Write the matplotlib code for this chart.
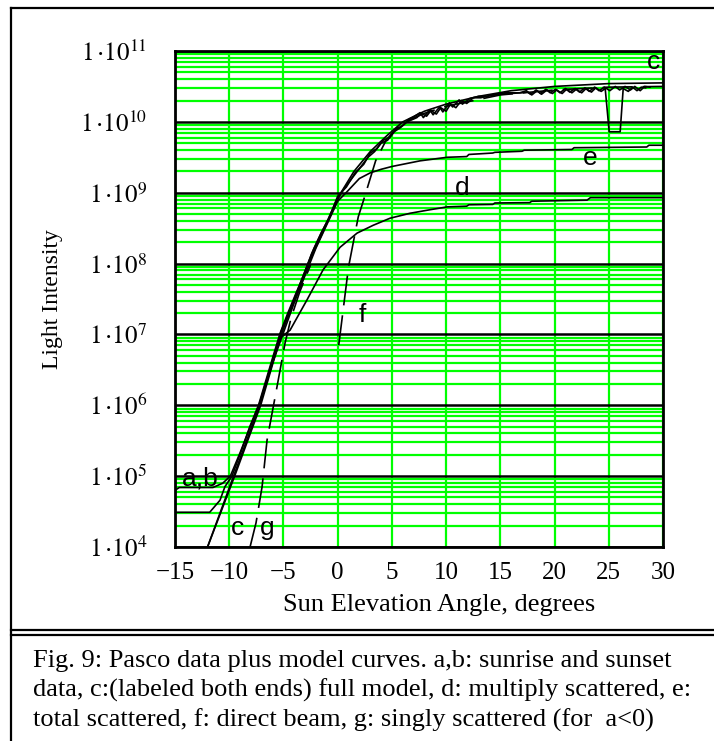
import numpy as np
import matplotlib
matplotlib.use("Agg")
import matplotlib.pyplot as plt
from matplotlib.lines import Line2D
from matplotlib.ticker import LogLocator, FixedLocator, FuncFormatter, NullFormatter

plt.rcParams['font.family'] = ['Liberation Serif', 'DejaVu Serif']
plt.rcParams['mathtext.fontset'] = 'stix'

# sunrise data (a): angle in degrees, log10 of intensity
a_angle = [-15.0, -14.6, -11.5, -10.6, -9.9, -9.0, -8.0, -7.2, -6.5, -5.8, -5.2, -4.5, -3.8, -3.0,
           -2.2, -1.5, -0.8, 0.0, 0.8, 1.6, 2.4, 3.0, 3.6, 4.2, 4.8, 5.4, 6.0, 6.6,
           7.0, 7.6, 7.9, 8.5, 8.8, 9.4, 9.7, 10.3, 10.6, 11.2, 11.5, 12.2, 13.0, 13.8, 14.5, 15.2,
           16.0, 16.8, 17.4, 17.8, 18.3, 18.7, 19.2, 19.6, 20.1, 20.5, 21.0, 21.4, 21.9, 22.3,
           22.8, 23.2, 23.7, 24.1, 24.6, 25.1, 25.6, 26.0, 26.5, 27.0, 27.4, 27.9, 28.3, 28.8]
a_log10 = [4.80, 4.84, 4.84, 4.90, 5.00, 5.33, 5.72, 6.03, 6.38, 6.74, 7.05, 7.31, 7.58, 7.90,
           8.21, 8.44, 8.64, 8.95, 9.08, 9.28, 9.40, 9.56, 9.62, 9.74, 9.78, 9.90, 9.95, 10.04,
           10.07, 10.13, 10.06, 10.17, 10.10, 10.21, 10.14, 10.27, 10.21, 10.31, 10.25, 10.33, 10.36,
           10.36, 10.39, 10.40, 10.40, 10.41, 10.44, 10.39, 10.45, 10.40, 10.46, 10.41, 10.46, 10.41,
           10.47, 10.42, 10.47, 10.42, 10.48, 10.43, 10.49, 10.44, 10.49, 10.44, 10.50, 10.45, 10.50,
           10.45, 10.50, 10.44, 10.50, 10.49]

# sunset data (b), with the dropout near 25 degrees
b_angle = [-15.0, -11.8, -10.85, -10.4, -9.75, -8.9, -8.1, -7.3, -6.6, -5.9, -5.3, -4.6, -3.9, -3.1,
           -2.4, -1.6, -0.9, -0.2, 0.6, 1.3, 2.1, 2.8, 3.4, 4.0, 4.6, 5.2, 5.8, 6.4,
           7.3, 7.7, 8.2, 8.6, 9.1, 9.5, 10.0, 10.4, 10.9, 11.4, 11.9, 12.5, 13.2, 14.0, 14.6, 15.4,
           16.2, 17.0, 17.5, 17.9, 18.4, 18.8, 19.3, 19.8, 20.2, 20.7, 21.1, 21.6, 22.0, 22.5,
           22.9, 23.4, 23.8, 24.3, 24.67, 25.04, 26.05, 26.33, 26.8, 27.2, 27.6, 28.0, 28.4]
b_log10 = [4.49, 4.49, 4.66, 4.85, 5.00, 5.35, 5.70, 6.00, 6.36, 6.72, 7.02, 7.30, 7.56, 7.85,
           8.14, 8.40, 8.62, 8.86, 9.06, 9.20, 9.36, 9.50, 9.58, 9.70, 9.74, 9.86, 9.92, 10.00,
           10.06, 10.12, 10.08, 10.16, 10.11, 10.20, 10.15, 10.25, 10.20, 10.30, 10.26, 10.34, 10.34,
           10.37, 10.38, 10.41, 10.41, 10.41, 10.42, 10.38, 10.44, 10.39, 10.45, 10.40, 10.45, 10.40,
           10.46, 10.41, 10.46, 10.41, 10.47, 10.42, 10.48, 10.43, 10.47, 9.86, 9.86, 10.47, 10.43,
           10.49, 10.44, 10.49, 10.48]

# model curves
c_angle = [-12.0, -9.5, -7.1, -5.2, -2.7, -1.5, 0.3, 1.5, 3.0, 4.5, 6.0, 8.0, 10.0, 13.0, 16.0,
           20.0, 25.0, 30.0]
c_log10 = [4.00, 5.00, 6.00, 7.00, 8.00, 8.40, 9.00, 9.30, 9.58, 9.80, 10.00, 10.15, 10.25,
           10.36, 10.44, 10.50, 10.54, 10.55]

d_angle = [-12.0, -9.6, -7.2, -5.3, -4.39, -2.82, -1.35, 0.22, 1.79, 3.27, 4.83, 6.68, 8.52,
           10.1, 11.9, 12.1, 14.3, 14.5, 17.7, 17.9, 23.0, 23.3, 30.0]
d_log10 = [4.00, 5.00, 6.00, 6.95, 7.06, 7.49, 7.91, 8.23, 8.43, 8.54, 8.64, 8.71, 8.76,
           8.80, 8.81, 8.83, 8.835, 8.855, 8.86, 8.88, 8.895, 8.93, 8.93]

e_angle = [-6.0, -4.0, -2.0, 0.0, 0.9, 2.0, 3.0, 4.0, 5.0, 7.6, 10.1, 11.9, 12.1, 14.3, 14.5,
           17.0, 17.2, 21.6, 21.8, 28.5, 28.7, 30.0]
e_log10 = [6.60, 7.45, 8.22, 8.88, 9.02, 9.20, 9.28, 9.33, 9.37, 9.45, 9.50, 9.51, 9.54, 9.56,
           9.57, 9.585, 9.60, 9.61, 9.635, 9.645, 9.67, 9.67]

f_angle = [0.1, 1.0, 1.9, 2.4, 3.0, 3.5, 4.5, 5.5, 6.5, 8.0, 10.0, 15.0, 20.0, 25.0, 30.0]
f_log10 = [6.85, 7.95, 8.66, 8.90, 9.20, 9.45, 9.75, 9.92, 10.02, 10.12, 10.22, 10.38, 10.45,
           10.49, 10.50]

g_angle = [-8.08, -7.53, -6.97, -6.51, -5.68, -4.85, -4.30, -3.5, -2.5]
g_log10 = [4.00, 4.34, 4.85, 5.51, 6.19, 6.88, 7.23, 7.60, 7.98]

# curve labels: text, angle, log10 intensity
curve_labels = [("c", 29.1, 10.85), ("e", 23.3, 9.49), ("d", 11.5, 9.07), ("f", 2.25, 7.27),
                ("a,b", -12.7, 4.96), ("c", -9.2, 4.27), ("g", -6.5, 4.27)]

caption = ["Fig. 9: Pasco data plus model curves. a,b: sunrise and sunset",
           "data, c:(labeled both ends) full model, d: multiply scattered, e:",
           "total scattered, f: direct beam, g: singly scattered (for  a<0)"]

W, H = 714, 741
fig = plt.figure(figsize=(W / 100, H / 100), dpi=100)
ax = fig.add_axes([175 / W, 1 - 547 / H, (663 - 175) / W, (547 - 51) / H])

green = '#00ff00'
ax.set_yscale('log')
ax.set_xlim(-15, 30)
ax.set_ylim(1e4, 1e11)
ax.xaxis.set_major_locator(FixedLocator(np.arange(-15, 31, 5)))
ax.yaxis.set_major_locator(LogLocator(base=10, numticks=20))
ax.yaxis.set_minor_locator(LogLocator(base=10, subs=np.arange(2, 10), numticks=100))
ax.yaxis.set_minor_formatter(NullFormatter())
ax.yaxis.set_major_formatter(FuncFormatter(lambda v, p: r'$1\,{\cdot}10^{%d}$' % round(np.log10(v))))
ax.tick_params(which='both', length=0)
ax.tick_params(axis='y', pad=20, labelsize=18)
ax.tick_params(axis='x', pad=11, labelsize=18)

ax.grid(True, which='minor', axis='y', color=green, lw=1.6, zorder=0)
ax.grid(True, which='major', axis='x', color=green, lw=1.6)
ax.grid(True, which='major', axis='y', color='black', lw=1.8)
ax.set_axisbelow(True)
for s in ax.spines.values():
    s.set_linewidth(2.0)

lc = 'black'
ax.plot(a_angle, 10.0 ** np.array(a_log10), color=lc, lw=1.2)
ax.plot(b_angle, 10.0 ** np.array(b_log10), color=lc, lw=1.2)
ax.plot(c_angle, 10.0 ** np.array(c_log10), color=lc, lw=1.2)
ax.plot(d_angle, 10.0 ** np.array(d_log10), color=lc, lw=1.2)
ax.plot(e_angle, 10.0 ** np.array(e_log10), color=lc, lw=1.2)
ax.plot(f_angle, 10.0 ** np.array(f_log10), color=lc, lw=1.2, dashes=(18, 6))
ax.plot(g_angle, 10.0 ** np.array(g_log10), color=lc, lw=1.2, dashes=(18, 6))

for txt, xa, yl in curve_labels:
    ax.text(xa, 10.0 ** yl, txt, ha='center', va='center', fontsize=19,
            family=['Liberation Sans', 'DejaVu Sans'])

ax.set_xlabel("Sun Elevation Angle, degrees", fontsize=19)
ax.xaxis.set_label_coords((439 - 175) / (663 - 175), (547 - 605) / (547 - 51), transform=ax.transAxes)
ax.xaxis.label.set_va('center')
ax.set_ylabel("Light Intensity", fontsize=17)
ax.yaxis.set_label_coords((63 - 175) / (663 - 175), 0.5)

# frame around figure and caption
fig.add_artist(Line2D([11 / W, 11 / W], [0, 1 - 8 / H], color='black', lw=1.6))
fig.add_artist(Line2D([11 / W, 1], [1 - 8 / H, 1 - 8 / H], color='black', lw=1.6))
fig.add_artist(Line2D([11 / W, 1], [1 - 630 / H, 1 - 630 / H], color='black', lw=1.6))
fig.add_artist(Line2D([11 / W, 1], [1 - 635 / H, 1 - 635 / H], color='black', lw=1.6))

for i, line in enumerate(caption):
    fig.text(33 / W, 1 - (667 + 30 * i) / H, line, fontsize=19, va='baseline', ha='left')

fig.savefig('out.png', dpi=100)
